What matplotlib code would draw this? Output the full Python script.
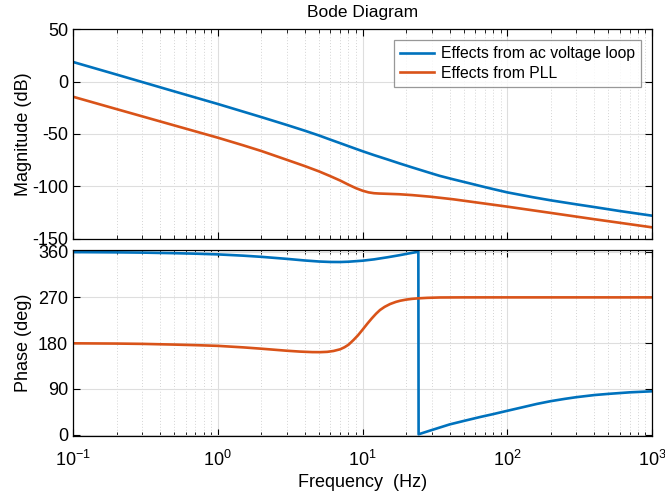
import numpy as np
import matplotlib
matplotlib.use("Agg")
import matplotlib.pyplot as plt
from matplotlib.ticker import LogLocator, NullFormatter, FixedLocator

plt.rcParams['font.family'] = ['Liberation Sans', 'DejaVu Sans']
plt.rcParams['mathtext.default'] = 'regular'
plt.rcParams['axes.unicode_minus'] = False

# ---- data ----
freq_mag_ac = [0.1, 0.2, 0.5, 1, 2, 3, 4, 5, 6, 7, 8, 10, 12, 15, 18, 22, 29.3, 34.2, 42.4,
               55, 65, 80, 100, 150, 200, 300, 400, 600, 1000]
mag_ac = [18.6, 6.6, -9.4, -21.4, -33.9, -41.4, -46.9, -51.4, -55.4, -58.7, -61.6, -66.4,
          -70.1, -74.4, -78.0, -81.8, -87.1, -89.9, -93.2, -97.0, -99.5, -102.5, -105.6,
          -110.2, -113.2, -117.0, -119.6, -123.4, -127.8]

freq_mag_pll = [0.1, 0.2, 0.5, 1, 1.5, 2, 3, 4, 5, 6, 7, 8, 9, 10, 11, 12, 13, 15, 18, 22,
                29.3, 42.4, 100, 196, 391, 1000]
mag_pll = [-14.5, -26.3, -41.8, -53.5, -60.8, -66.2, -74.6, -80.6, -85.6, -90.2, -94.3,
           -98.3, -101.6, -104.0, -105.6, -106.4, -106.7, -107.0, -107.4, -108.2, -109.7,
           -112.2, -119.2, -125.0, -131.0, -138.9]

freq_ph_ac = [0.1, 0.2, 0.3, 0.5, 0.7, 1, 1.5, 2, 2.5, 3, 4, 5, 6, 7, 8, 10, 12, 15, 18, 21,
              24.3, 24.4, 30, 40, 50, 65, 80, 100, 130, 160, 200, 250, 300, 400, 500, 700, 1000]
ph_ac = [359.3, 358.8, 358.3, 357.2, 356.2, 354.8, 352.3, 350.0, 347.8, 346.0, 342.8, 340.8,
         339.9, 339.8, 340.4, 342.4, 345.0, 349.3, 353.2, 356.8, 360.0, 0.8, 9.0, 20.2, 27.0,
         34.8, 40.5, 47.0, 54.5, 60.5, 66.0, 70.5, 73.8, 78.0, 80.3, 83.3, 85.4]

freq_ph_pll = [0.1, 0.2, 0.3, 0.5, 0.7, 1, 1.5, 2, 2.5, 3, 3.7, 4.5, 5.1, 5.7, 6.3, 7, 7.5, 8,
               8.66, 9.3, 10, 10.8, 11.6, 12.4, 13.2, 14.2, 15.5, 17, 18.2, 20, 22, 24.2, 28,
               34.2, 50, 100, 1000]
ph_pll = [179.8, 179.3, 178.7, 177.3, 176.2, 174.8, 171.8, 169.2, 167.0, 165.2, 163.5, 162.5,
          162.4, 163.0, 164.7, 168.0, 172.0, 177.0, 186.3, 195.5, 206.5, 218.5, 229.0, 238.0,
          245.3, 251.5, 257.1, 261.3, 263.6, 265.8, 267.3, 268.3, 269.3, 270.0, 270.2, 270.2,
          270.2]

labels = ['Effects from ac voltage loop', 'Effects from PLL']
colors = ['#0072BD', '#D95319']
mag_ticks = [-150, -100, -50, 0, 50]
phase_ticks = [0, 90, 180, 270, 360]

fig = plt.figure(figsize=(6.65, 4.95), dpi=100)
ax1 = fig.add_axes([0.1098, 0.5172, 0.8707, 0.4242])
ax2 = fig.add_axes([0.1098, 0.1192, 0.8707, 0.3757])

ax1.plot(freq_mag_ac, mag_ac, color=colors[0], lw=1.9, label=labels[0])
ax1.plot(freq_mag_pll, mag_pll, color=colors[1], lw=1.9, label=labels[1])
ax2.plot(freq_ph_ac, ph_ac, color=colors[0], lw=1.9)
ax2.plot(freq_ph_pll, ph_pll, color=colors[1], lw=1.9)

for ax in (ax1, ax2):
    ax.set_xscale('log')
    ax.set_xlim(0.1, 1000)
    ax.xaxis.set_major_locator(LogLocator(base=10, numticks=10))
    ax.xaxis.set_minor_locator(LogLocator(base=10, subs=np.arange(2, 10), numticks=20))
    ax.xaxis.set_minor_formatter(NullFormatter())
    ax.grid(True, which='major', color='#dedede', lw=0.8, ls='-')
    ax.grid(True, which='minor', axis='x', color='#d4d4d4', lw=0.7, ls=(0, (1, 2)))
    ax.tick_params(which='both', direction='in', top=True, right=True, labelsize=13, colors='black')
    ax.tick_params(which='major', length=5)
    ax.tick_params(which='minor', length=3)
    for s in ax.spines.values():
        s.set_color('black')
        s.set_linewidth(0.9)
    ax.set_axisbelow(True)

ax1.set_ylim(-150, 50)
ax1.yaxis.set_major_locator(FixedLocator(mag_ticks))
ax1.tick_params(labelbottom=False)
ax1.set_ylabel('Magnitude (dB)', fontsize=13)
ax1.yaxis.set_label_coords(-0.07, 0.5)
ax1.set_title('Bode Diagram', fontsize=12.5, pad=9)

ax2.set_ylim(-2.6, 363.4)
ax2.yaxis.set_major_locator(FixedLocator(phase_ticks))
ax2.tick_params(axis='x', which='major', pad=10)
ax2.set_ylabel('Phase (deg)', fontsize=13)
ax2.yaxis.set_label_coords(-0.07, 0.5)
ax2.set_xlabel('Frequency  (Hz)', fontsize=13, labelpad=3)

leg = ax1.legend(loc='upper right', fontsize=11.3, frameon=True, fancybox=False,
                 edgecolor='#7f7f7f', handlelength=2.2, borderaxespad=0.7,
                 handletextpad=0.4, labelspacing=0.3)
leg.get_frame().set_linewidth(0.9)

fig.savefig('out.png', dpi=100)
